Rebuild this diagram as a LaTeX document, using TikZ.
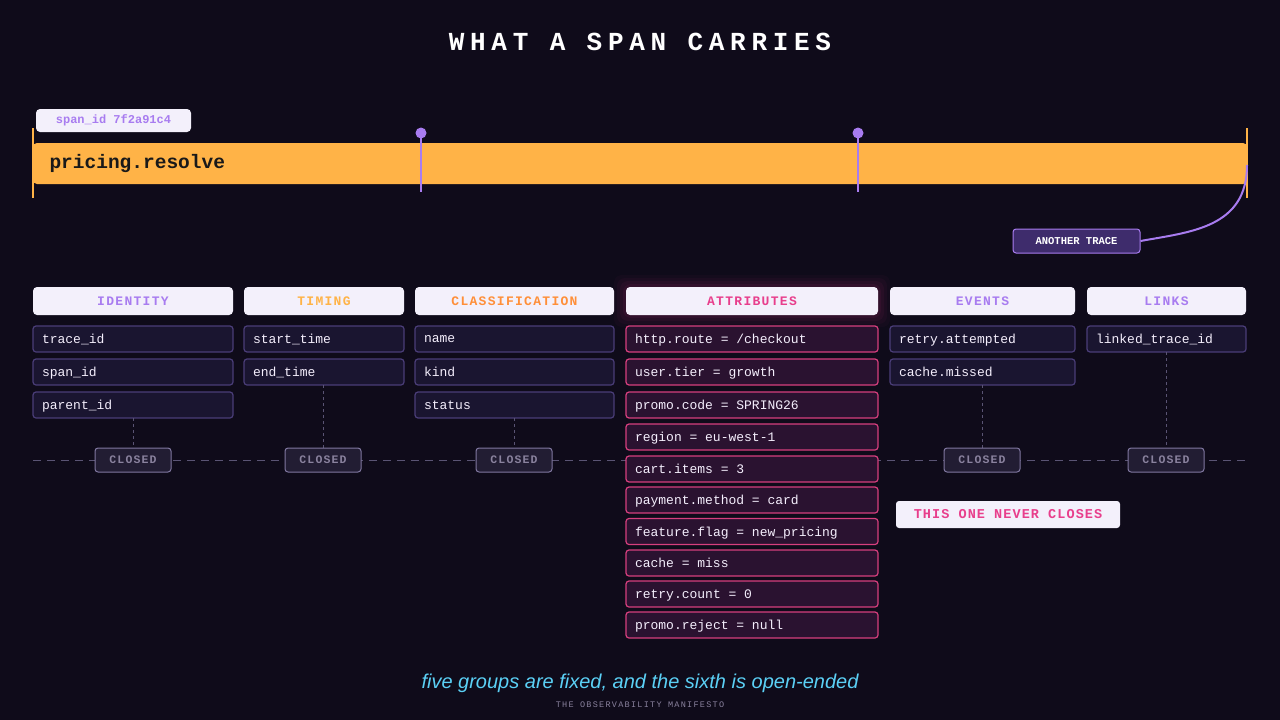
\documentclass[tikz,border=0pt]{standalone}
\usepackage{fontspec}
\setmainfont{Liberation Sans}
\newfontfamily\mono{Liberation Mono}
\definecolor{bg}{HTML}{0F0B1A}
\definecolor{rowfill}{HTML}{1A1530}
\definecolor{rowline}{HTML}{4A3D78}
\definecolor{afill}{HTML}{2A1230}
\definecolor{aline}{HTML}{D63F7E}
\definecolor{hfill}{HTML}{F3F0FB}
\definecolor{purp}{HTML}{A87CF0}
\definecolor{orng}{HTML}{FFB347}
\definecolor{pink}{HTML}{E83E8C}
\definecolor{cyan}{HTML}{5BD0F5}
\definecolor{greyt}{HTML}{8A829E}
\definecolor{dashc}{HTML}{5A5474}
\definecolor{cfill}{HTML}{221D33}
\definecolor{tfill}{HTML}{3E2C6C}
\newcommand\eqc{\makebox[23.4pt]{=}}
\newcommand\spc{\hspace*{7.2pt}}
\begin{document}
\begin{tikzpicture}[x=1pt,y=-1pt,
  hdr/.style={draw=none,fill=hfill,rounded corners=4pt,minimum height=28pt,inner sep=0pt,font=\mono\bfseries\fontsize{13}{13}\selectfont\addfontfeature{LetterSpace=10}},
  row/.style={draw=rowline,line width=1.2pt,fill=rowfill,rounded corners=3pt,minimum height=26pt,inner sep=0pt,text=white!88!purp,font=\mono\fontsize{13}{13}\selectfont,text depth=0pt},
  arow/.style={row,draw=aline,fill=afill},
  closed/.style={draw=rowline!70!white,fill=cfill,line width=1pt,rounded corners=3pt,minimum width=76pt,minimum height=24pt,inner sep=0pt,text=greyt,font=\mono\bfseries\fontsize{11.5}{11.5}\selectfont\addfontfeature{LetterSpace=10}},
  vdash/.style={draw=dashc,line width=0.8pt,dash pattern=on 3pt off 3pt}]
\fill[bg] (0,0) rectangle (1280,720);
\useasboundingbox (0,0) rectangle (1280,720);
\node[text=white,font=\mono\bfseries\fontsize{26}{26}\selectfont\addfontfeature{LetterSpace=22}] (title) at (640,42) {WHAT A SPAN CARRIES};
% span bar
\draw[orng,line width=1.5pt] (33,128) -- (33,198);
\draw[orng,line width=1.5pt] (1247,128) -- (1247,198);
\node[fill=orng,rounded corners=4pt,minimum width=1214pt,minimum height=41pt,inner sep=0pt] (bar) at (640,163.5) {};
\node[anchor=west,font=\mono\bfseries\fontsize{19.5}{19.5}\selectfont,text=black!90] (barlbl) at (46,163) {pricing.resolve};
\node[fill=hfill,rounded corners=4pt,minimum width=155pt,minimum height=23pt,inner sep=0pt,text=purp,font=\mono\bfseries\fontsize{12}{12}\selectfont] (sid) at (113.5,120.5) {span\_id\spc7f2a91c4};
\foreach \x in {421,858}{
  \draw[purp,line width=2pt] (\x,133) -- (\x,192);
  \fill[purp] (\x,133) circle (5.5pt);
}
\node[draw=purp,fill=tfill,line width=1pt,rounded corners=3pt,minimum width=127pt,minimum height=24pt,inner sep=0pt,text=white,font=\mono\bfseries\fontsize{10.5}{10.5}\selectfont] (another) at (1076.5,241) {ANOTHER TRACE};
\coordinate (bend) at (1247,165);
\draw[purp,line width=2pt] (another.east) .. controls (1190,232) and (1247,228) .. (bend);
% closed line
\draw[dashc,line width=1pt,dash pattern=on 8pt off 6pt] (33,460) -- (1247,460);
% glow
\foreach \i/\o in {12/0.03,9/0.04,6/0.05,3/0.06}{
  \fill[pink,opacity=\o,rounded corners=8pt] (626-\i,287-\i) rectangle (878+\i,315+\i);}
% headers
\node[hdr,minimum width=200pt,text=purp] (h1) at (133,301) {IDENTITY};
\node[hdr,minimum width=160pt,text=orng] (h2) at (324,301) {TIMING};
\node[hdr,minimum width=199pt,text=orng!80!red] (h3) at (514.5,301) {CLASSIFICATION};
\node[hdr,minimum width=252pt,text=pink] (h4) at (752,301) {ATTRIBUTES};
\node[hdr,minimum width=185pt,text=purp] (h5) at (982.5,301) {EVENTS};
\node[hdr,minimum width=159pt,text=purp] (h6) at (1166.5,301) {LINKS};
% rows
\foreach \y/\t in {339/trace\_id,372/span\_id,405/parent\_id}{
  \node[row,minimum width=200pt,text width=182pt,align=left] at (133,\y) {\t};}
\foreach \y/\t in {339/start\_time,372/end\_time}{
  \node[row,minimum width=160pt,text width=142pt,align=left] at (324,\y) {\t};}
\foreach \y/\t in {339/name,372/kind,405/status}{
  \node[row,minimum width=199pt,text width=181pt,align=left] at (514.5,\y) {\t};}
\foreach \y/\t in {339/retry.attempted,372/cache.missed}{
  \node[row,minimum width=185pt,text width=167pt,align=left] at (982.5,\y) {\t};}
\node[row,minimum width=159pt,text width=141pt,align=left] at (1166.5,339) {linked\_trace\_id};
\foreach \y/\t in {339/{http.route\eqc/checkout},372/user.tier\eqc growth,405/promo.code\eqc SPRING26,437/region\eqc eu-west-1,469/cart.items\eqc 3,500/payment.method\eqc card,531.5/feature.flag\eqc new\_pricing,563/cache\eqc miss,594/retry.count\eqc 0,625/promo.reject\eqc null}{
  \node[arow,minimum width=252pt,text width=234pt,align=left] at (752,\y) {\t};}
% closed badges
\foreach \x/\ya/\n in {133/418/c1,323/385/c2,514/418/c3,982/385/c5,1166/352/c6}{
  \draw[vdash] (\x,\ya) -- (\x,448);
  \node[closed] (\n) at (\x,460) {CLOSED};
}
\node[fill=hfill,rounded corners=3pt,minimum width=224pt,minimum height=27pt,inner sep=0pt,text=pink,font=\mono\bfseries\fontsize{13.5}{13.5}\selectfont\addfontfeature{LetterSpace=8}] (never) at (1008,514.5) {THIS ONE NEVER CLOSES};
\node[text=cyan,font=\itshape\fontsize{20}{20}\selectfont] (cap) at (640,683) {five groups are fixed, and the sixth is open-ended};
\node[text=greyt,font=\mono\fontsize{8.5}{8.5}\selectfont\addfontfeature{LetterSpace=15}] (foot) at (640,705) {THE OBSERVABILITY MANIFESTO};
\end{tikzpicture}
\end{document}
